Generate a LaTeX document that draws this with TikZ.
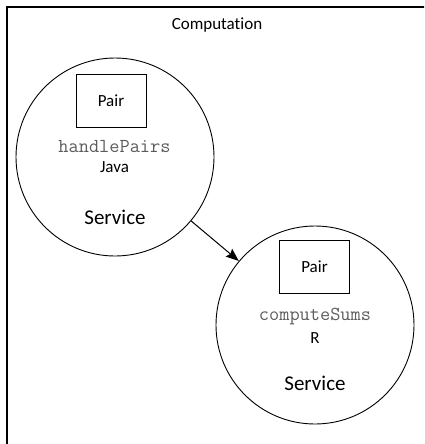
\documentclass[tikz,border=0pt]{standalone}
\usepackage{fontspec}
\setmainfont{Carlito}[Ligatures=NoCommon]
\setmonofont{Latin Modern Mono}
\usetikzlibrary{arrows.meta}
\definecolor{codegray}{rgb}{0.36,0.36,0.36}
\tikzset{
  service/.style={draw, circle, line width=0.9pt, minimum size=198pt, inner sep=0pt},
  pairbox/.style={draw, line width=0.9pt, minimum width=70pt, minimum height=53pt, inner sep=0pt,
    font=\fontsize{17}{20}\selectfont},
  label/.style={inner sep=0pt, font=\fontsize{17}{20}\selectfont},
  code/.style={inner sep=0pt, text=codegray, font=\ttfamily\fontsize{19.8}{22}\selectfont},
  kind/.style={inner sep=0pt, font=\fontsize{21}{24}\selectfont},
  flow/.style={line width=1pt, -{Stealth[length=13pt, width=10pt, inset=2pt]}}
}
\begin{document}
\begin{tikzpicture}[x=1pt, y=-1pt]
  \useasboundingbox (0,0) rectangle (424,444);
  \clip (0,0) rectangle (424,444);
  % outer container
  \draw[line width=1.3pt] (7,7) rectangle (440,460);
  \node[label] (title) at (217,25) {Computation};

  % first service
  \node[service] (s1) at (115,157) {};
  \node[pairbox] (p1) at (111,100.5) {Pair};
  \node[code] (f1) at (114.5,147) {handlePairs};
  \node[label] (l1) at (114.5,167) {Java};
  \node[kind] (k1) at (115,217) {Service};

  % second service
  \node[service] (s2) at (315,325) {};
  \node[pairbox] (p2) at (314.5,267) {Pair};
  \node[code] (f2) at (315,317) {computeSums};
  \node[label] (l2) at (315,338) {R};
  \node[kind] (k2) at (315,383) {Service};

  \draw[flow] (s1) -- (s2);
\end{tikzpicture}
\end{document}
